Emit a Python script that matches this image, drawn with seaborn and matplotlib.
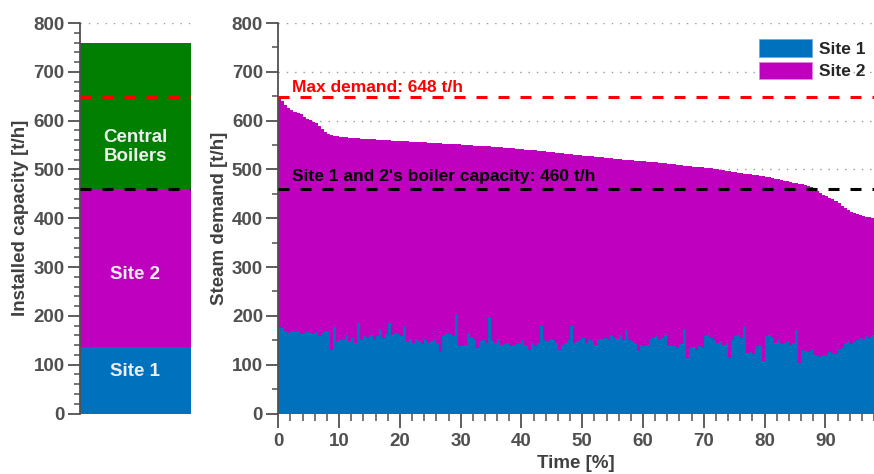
import numpy as np
import pandas as pd
import matplotlib
matplotlib.use('Agg')
import matplotlib.pyplot as plt
import seaborn as sns
from matplotlib.ticker import MultipleLocator
from matplotlib.patches import Patch

sns.set_style('white')
plt.rcParams['font.family'] = ['Liberation Sans', 'DejaVu Sans']
plt.rcParams['font.weight'] = 'bold'

# 颜色
C_SITE1 = '#0072BD'
C_SITE2 = '#BF00BF'
C_CENTRAL = '#007F00'
GREY = '#505050'

# 左图：装机容量 [t/h]
CAP_NAMES = ['Site 1', 'Site 2', 'Central\nBoilers']
CAP_VALUES = [137, 323, 300]
CAP_LABEL_Y = [86, 285, 546]

MAX_DEMAND = 648
SITE_CAPACITY = 460

# 右图：负荷持续曲线，每 0.5% 时间一个值
BIN_WIDTH = 0.5
TIME_END = 98

TOTAL_DEMAND = [
    645, 640, 632, 626, 622, 618, 616, 614, 608, 604,
    601, 598, 595, 590, 582, 576, 573, 571, 569, 568,
    567, 566, 566, 565, 565, 564, 564, 563, 563, 562,
    562, 562, 561, 561, 560, 560, 560, 559, 559, 559,
    558, 558, 558, 557, 557, 557, 556, 556, 556, 555,
    555, 555, 554, 554, 553, 553, 553, 552, 552, 552,
    551, 551, 550, 550, 549, 549, 548, 548, 547, 547,
    546, 546, 545, 545, 544, 544, 543, 543, 542, 541,
    541, 540, 540, 539, 539, 538, 537, 537, 536, 535,
    535, 534, 533, 533, 532, 531, 531, 530, 529, 529,
    528, 528, 527, 527, 526, 526, 525, 524, 524, 523,
    522, 521, 521, 520, 520, 519, 519, 518, 518, 517,
    517, 516, 516, 515, 515, 514, 514, 513, 512, 511,
    511, 510, 509, 508, 508, 507, 506, 505, 505, 504,
    503, 503, 502, 501, 500, 499, 498, 497, 496, 495,
    494, 493, 492, 491, 491, 490, 489, 488, 487, 486,
    485, 484, 482, 481, 480, 478, 477, 476, 474, 473,
    472, 471, 470, 468, 466, 463, 460, 456, 452, 448,
    445, 442, 439, 436, 431, 426, 421, 416, 413, 410,
    408, 406, 404, 403, 402, 401,
]

SITE1_DEMAND = [
    177, 175, 170, 165, 168, 166, 170, 163, 165, 168,
    164, 162, 166, 158, 165, 168, 170, 130, 178, 148,
    152, 150, 160, 148, 155, 145, 185, 150, 158, 155,
    160, 150, 158, 172, 155, 162, 185, 160, 165, 162,
    158, 180, 148, 152, 145, 150, 148, 142, 150, 145,
    148, 150, 145, 125, 160, 165, 162, 158, 203, 138,
    138, 140, 165, 155, 150, 134, 148, 150, 145, 198,
    150, 145, 152, 140, 142, 145, 138, 140, 142, 145,
    150, 140, 130, 145, 138, 145, 180, 150, 148, 152,
    150, 145, 131, 140, 145, 150, 180, 145, 148, 150,
    155, 145, 150, 148, 141, 150, 152, 155, 150, 158,
    155, 152, 160, 150, 172, 150, 148, 145, 128, 140,
    138, 140, 150, 155, 158, 150, 155, 160, 138, 140,
    138, 135, 142, 173, 114, 134, 135, 130, 138, 134,
    158, 160, 155, 150, 145, 148, 140, 145, 114, 150,
    158, 160, 155, 179, 124, 126, 122, 138, 140, 107,
    158, 160, 155, 145, 150, 142, 145, 148, 140, 145,
    172, 104, 130, 128, 125, 130, 120, 118, 115, 117,
    120, 125, 124, 122, 130, 135, 145, 148, 142, 146,
    150, 155, 152, 158, 155, 160,
]


def build_demand_frame():
    """把两个站点的需求整理成长表，供 histplot 堆叠"""
    n = len(TOTAL_DEMAND)
    centres = np.arange(n) * BIN_WIDTH + BIN_WIDTH / 2
    total = np.array(TOTAL_DEMAND, dtype=float)
    site1 = np.array(SITE1_DEMAND, dtype=float)
    site2 = total - site1
    df = pd.concat([
        pd.DataFrame({'time': centres, 'demand': site1, 'site': 'Site 1'}),
        pd.DataFrame({'time': centres, 'demand': site2, 'site': 'Site 2'}),
    ], ignore_index=True)
    return df


def style_y_axis(ax, minor):
    ax.set_ylim(0, 800)
    ax.yaxis.set_major_locator(MultipleLocator(100))
    ax.yaxis.set_minor_locator(MultipleLocator(minor))
    ax.tick_params(axis='y', which='major', left=True, length=9, width=1.3,
                   color=GREY, labelcolor=GREY, labelsize=13.5, pad=2)
    ax.tick_params(axis='y', which='minor', left=True, length=4.5, width=1.1, color=GREY)
    ax.grid(axis='y', which='major', color='#9a9a9a', linestyle=(0, (1, 5)), linewidth=1.0)
    ax.set_axisbelow(True)
    for s in ['top', 'right', 'bottom']:
        ax.spines[s].set_visible(False)
    ax.spines['left'].set_color(GREY)
    ax.spines['left'].set_linewidth(1.3)


fig = plt.figure(figsize=(8.74, 4.74), dpi=100)
ax1 = fig.add_axes([80 / 874, 60.5 / 474, 111 / 874, 390.5 / 474])
ax2 = fig.add_axes([278.3 / 874, 60.5 / 474, 595.7 / 874, 390.5 / 474])

# --- 左图：装机容量堆叠柱 ---
bottom = 0
cap_colours = [C_SITE1, C_SITE2, C_CENTRAL]
for name, val, col, ly in zip(CAP_NAMES, CAP_VALUES, cap_colours, CAP_LABEL_Y):
    ax1.bar([0], [val], bottom=bottom, width=1.0, color=col, linewidth=0)
    ax1.text(0, ly, name, ha='center', va='center', color='#eeeeee',
             fontsize=13.5, linespacing=1.2)
    bottom += val
ax1.set_xlim(-0.5, 0.5)
ax1.set_xticks([])
style_y_axis(ax1, 20)
ax1.set_ylabel('Installed capacity [t/h]', fontsize=13.5, fontweight='bold',
               color='#404040', labelpad=3)

# --- 右图：负荷持续曲线 ---
df = build_demand_frame()
sns.histplot(data=df, x='time', weights='demand', hue='site',
             hue_order=['Site 2', 'Site 1'], multiple='stack',
             binwidth=BIN_WIDTH, binrange=(0, TIME_END),
             element='step', palette={'Site 1': C_SITE1, 'Site 2': C_SITE2},
             alpha=1, linewidth=0, legend=False, ax=ax2)
ax2.set_xlim(0, TIME_END)
style_y_axis(ax2, 50)
ax2.xaxis.set_major_locator(MultipleLocator(10))
ax2.xaxis.set_minor_locator(MultipleLocator(2))
ax2.tick_params(axis='x', which='major', bottom=True, length=10, width=1.3,
                color=GREY, labelcolor=GREY, labelsize=13.5, pad=4)
ax2.tick_params(axis='x', which='minor', bottom=True, length=5, width=1.1, color=GREY)
ax2.set_xlabel('Time [%]', fontsize=13.5, fontweight='bold', color='#404040', labelpad=4)
ax2.set_ylabel('Steam demand [t/h]', fontsize=13.5, fontweight='bold',
               color='#404040', labelpad=3)

# 虚线：最大需求与现有锅炉容量
for ax in (ax1, ax2):
    ax.axhline(MAX_DEMAND, color='red', linewidth=2.2, dashes=(3.6, 3.6), zorder=3)
    ax.axhline(SITE_CAPACITY, color='black', linewidth=2.2, dashes=(3.6, 3.6), zorder=3)

ax2.text(2.2, 667, f'Max demand: {MAX_DEMAND} t/h', color='red', fontsize=12.5,
         va='center', ha='left')
ax2.text(2.2, 485, f"Site 1 and 2's boiler capacity: {SITE_CAPACITY} t/h", color='black',
         fontsize=12.5, va='center', ha='left')

handles = [Patch(facecolor=C_SITE1, edgecolor='#6fa8d8', linewidth=0.6),
           Patch(facecolor=C_SITE2, edgecolor='#dd88dd', linewidth=0.6)]
ax2.legend(handles, ['Site 1', 'Site 2'], loc='upper right', bbox_to_anchor=(1.0, 0.98),
           frameon=False, fontsize=12.5, handlelength=3.05, handleheight=1.2,
           handletextpad=0.4, labelspacing=0.25, borderaxespad=0.1)

fig.savefig('out.png', dpi=100)
